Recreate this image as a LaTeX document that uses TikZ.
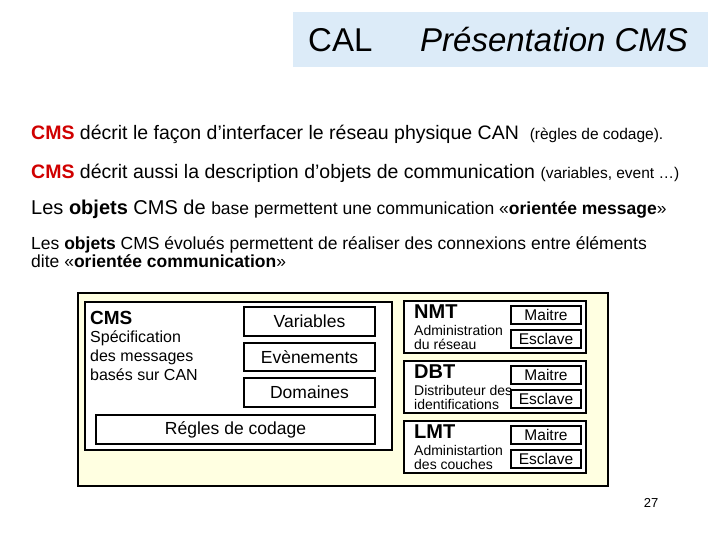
\documentclass[tikz,border=0pt]{standalone}
\usepackage{fontspec}
\setmainfont{Liberation Sans}
\definecolor{ttl}{HTML}{DCEBF8}
\definecolor{yel}{HTML}{FFFFE1}
\definecolor{cms}{HTML}{D00000}
\begin{document}
\begin{tikzpicture}[x=1pt,y=-1pt,
 bx/.style={draw,line width=1.3pt,fill=white},
 lb/.style={anchor=west,inner sep=0pt,align=left},
 ms/.style={inner sep=0pt,font=\fontsize{15.5}{16}\selectfont}]
\useasboundingbox (0,0) rectangle (720,540);
\fill[ttl] (293,12) rectangle (708,67);
\node[lb,font=\fontsize{33}{35}\selectfont] (cal) at (308,40) {CAL};
\node[lb,font=\fontsize{33}{35}\selectfont\itshape] (pres) at (420,40) {Présentation CMS};
\node[lb,font=\fontsize{19.5}{22}\selectfont] (l1) at (31,134) {\textcolor{cms}{\textbf{CMS}} décrit le façon d’interfacer le réseau physique CAN \ {\fontsize{15.5}{17}\selectfont(règles de codage).}};
\node[lb,font=\fontsize{19.5}{22}\selectfont] (l2) at (31,173) {\textcolor{cms}{\textbf{CMS}} décrit aussi la description d’objets de communication {\fontsize{15.5}{17}\selectfont(variables, event …)}};
\node[lb,font=\fontsize{20}{22}\selectfont] (l3) at (31,209) {Les \textbf{objets} CMS de {\fontsize{17.5}{19}\selectfont base permettent une communication «\textbf{orientée message}»}};
\node[lb,font=\fontsize{17.5}{18}\selectfont] (l4) at (31,252) {Les \textbf{objets} CMS évolués permettent de réaliser des connexions entre éléments\\dite «\textbf{orientée communication}»};
\draw[line width=1.3pt,fill=yel] (78,293) rectangle (608,486);
\draw[bx] (85,302) rectangle (392,450);
\node[lb,font=\fontsize{19}{21}\selectfont\bfseries] (cmsh) at (90,318) {CMS};
\node[lb,font=\fontsize{16}{19}\selectfont,anchor=north west] (spec) at (90,331) {Spécification\\des messages\\basés sur CAN};
\draw[bx] (244,307) rectangle node[font=\fontsize{17.5}{19}\selectfont] (var) {Variables} (375,336);
\draw[bx] (244,343) rectangle node[font=\fontsize{17.5}{19}\selectfont] (evt) {Evènements} (375,371);
\draw[bx] (244,378) rectangle node[font=\fontsize{17.5}{19}\selectfont] (dom) {Domaines} (375,407);
\draw[bx] (96,415) rectangle node[font=\fontsize{17.5}{19}\selectfont] (reg) {Régles de codage} (375,444);
\foreach \n/\t/\a/\b/\y in {nmt/NMT/Administration/du réseau/301,dbt/DBT/Distributeur des/identifications/361,lmt/LMT/Administartion/des couches/421}{
 \draw[bx] (404,\y) rectangle (586,\y+52);
 \node[lb,font=\fontsize{20}{22}\selectfont\bfseries] (\n) at (414,\y+11) {\t};
 \node[lb,font=\fontsize{14}{14.5}\selectfont,anchor=north west] (\n d) at (414,\y+24) {\a\\\b};
 \draw[line width=1.1pt,fill=white] (511,\y+5) rectangle (581,\y+23);
 \node[ms] (\n m) at (546,\y+14) {Maitre};
 \draw[line width=1.1pt,fill=white] (511,\y+29) rectangle (581,\y+47);
 \node[ms] (\n e) at (546,\y+38) {Esclave};
}
\node[font=\fontsize{13}{14}\selectfont] (pg) at (651,503) {27};
\end{tikzpicture}
\end{document}
